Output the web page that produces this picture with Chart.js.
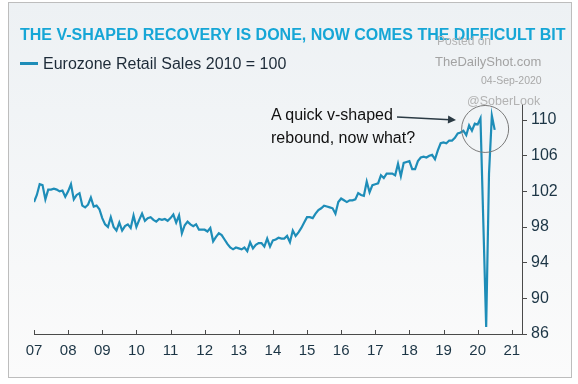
<!DOCTYPE html>
<html>
<head>
<meta charset="utf-8">
<script src="https://cdn.jsdelivr.net/npm/chart.js@4.4.1/dist/chart.umd.min.js"></script>
<style>
  body { margin: 0; width: 578px; height: 384px; overflow: hidden; background: #fff;
         font-family: "Liberation Sans", Arial, sans-serif; }
  #frame { position: absolute; left: 8px; top: 2px; width: 562px; height: 374px;
           border: 1px solid #bdbdbd; background: linear-gradient(#edf1f4, #fbfbfb); }
  #c { position: absolute; left: 0; top: 0; }
  .t { position: absolute; white-space: nowrap; line-height: 1; }
</style>
</head>
<body>
<div id="frame"></div>
<canvas id="c" width="578" height="384"></canvas>

<div class="t" style="left:20px;top:27px;font-size:16px;font-weight:bold;color:#16a6d6;">THE V-SHAPED RECOVERY IS DONE, NOW COMES THE DIFFICULT BIT</div>
<div class="t" style="left:20px;top:62px;width:18px;height:3px;background:#1e8db8;"></div>
<div class="t" style="left:43px;top:56px;font-size:16px;color:#1d2b38;">Eurozone Retail Sales 2010 = 100</div>

<div class="t" style="left:437px;top:35px;font-size:12px;color:#b3b3b3;">Posted on</div>
<div class="t" style="left:435px;top:55px;font-size:13px;color:#a3a3a3;">TheDailyShot.com</div>
<div class="t" style="left:481px;top:75px;font-size:10.5px;color:#a8a8a8;">04-Sep-2020</div>
<div class="t" style="left:467px;top:95px;font-size:12.5px;color:#b3b3b3;">@SoberLook</div>

<div class="t" style="left:271px;top:103px;font-size:16px;line-height:23px;color:#111;">A quick v-shaped<br>rebound, now what?</div>

<script>
// monthly, Jan 2007 .. Jul 2020
const startYear = 2007;
const retailSales = [
  100.8, 101.6, 102.8, 102.7, 101.1, 102.2, 102.2, 102.3, 102.2, 102.0, 102.1, 101.4,
  102.0, 102.8, 101.1, 101.6, 101.8, 100.4, 100.2, 100.5, 101.3, 100.3, 100.4, 100.0,
  99.0, 98.3, 98.0, 99.1, 98.0, 97.6, 98.5, 97.6, 98.1, 98.3, 97.9, 99.3,
  98.0, 98.8, 99.5, 98.7, 99.0, 99.1, 98.8, 98.6, 98.9, 98.8, 98.9, 98.7,
  99.0, 99.4, 98.5, 99.3, 97.3, 98.2, 98.6, 98.3, 98.1, 98.3, 97.7, 97.7,
  97.7, 97.5, 97.9, 96.4, 96.9, 97.3, 97.1, 96.6, 96.1, 95.7, 95.5, 95.7,
  95.6, 95.5, 95.7, 95.3, 96.3, 95.6, 96.0, 96.2, 96.2, 95.8, 96.7, 95.8,
  96.5, 96.6, 96.8, 96.7, 96.7, 97.0, 96.3, 97.6, 97.0, 97.4, 97.9, 98.5,
  99.1, 99.1, 99.0, 99.5, 99.9, 100.1, 100.4, 100.3, 100.2, 100.1, 99.5, 100.8,
  101.2, 101.0, 100.8, 101.0, 101.0, 101.1, 101.8, 101.6, 101.5, 103.1, 101.9, 102.7,
  102.8, 102.9, 103.8, 103.5, 104.0, 104.0, 104.0, 103.8, 105.1, 103.7, 105.2, 105.3,
  105.4, 104.5, 104.5, 105.4, 105.8, 105.9, 105.8, 106.0, 106.1, 105.6, 106.6, 107.4,
  107.5, 107.4, 107.7, 107.7, 108.0, 108.5, 108.6, 108.8, 108.3, 109.4, 108.8, 109.6,
  109.5, 110.2, 98.5, 86.8, 104.0, 110.5, 108.9
];
const yearTicks = [2007, 2008, 2009, 2010, 2011, 2012, 2013, 2014, 2015, 2016, 2017, 2018, 2019, 2020, 2021];
const valueTicks = [86, 90, 94, 98, 102, 106, 110];

const points = retailSales.map((v, i) => ({ x: startYear + i / 12, y: v }));

const axisColor = '#4a4a4a';
const labelColor = '#1c3545';

// x ticks point up into the plot; plus the arrow and circle callout
const extras = {
  id: 'extras',
  afterDraw(chart) {
    const { ctx, chartArea, scales } = chart;
    ctx.save();
    ctx.strokeStyle = axisColor;
    ctx.lineWidth = 1;
    yearTicks.forEach(yr => {
      const px = Math.round(scales.x.getPixelForValue(yr)) + 0.5;
      ctx.beginPath();
      ctx.moveTo(px, chartArea.bottom);
      ctx.lineTo(px, chartArea.bottom - 4);
      ctx.stroke();
    });

    // arrow
    ctx.strokeStyle = '#2b3a44';
    ctx.fillStyle = '#2b3a44';
    ctx.lineWidth = 1.5;
    const x0 = 397, y0 = 117, x1 = 456, y1 = 120;
    ctx.beginPath();
    ctx.moveTo(x0, y0);
    ctx.lineTo(x1 - 6, y1 - 0.3);
    ctx.stroke();
    const a = Math.atan2(y1 - y0, x1 - x0);
    ctx.beginPath();
    ctx.moveTo(x1, y1);
    ctx.lineTo(x1 - 8 * Math.cos(a) + 4 * Math.sin(a), y1 - 8 * Math.sin(a) - 4 * Math.cos(a));
    ctx.lineTo(x1 - 8 * Math.cos(a) - 4 * Math.sin(a), y1 - 8 * Math.sin(a) + 4 * Math.cos(a));
    ctx.closePath();
    ctx.fill();

    // circle round the v
    ctx.strokeStyle = '#7a7a7a';
    ctx.lineWidth = 1;
    ctx.beginPath();
    ctx.arc(scales.x.getPixelForValue(2020.22), scales.y.getPixelForValue(109.0), 23.5, 0, Math.PI * 2);
    ctx.stroke();
    ctx.restore();
  }
};

new Chart(document.getElementById('c'), {
  type: 'line',
  data: {
    datasets: [{
      label: 'Eurozone Retail Sales 2010 = 100',
      data: points,
      borderColor: '#1e8db8',
      borderWidth: 2.2,
      pointRadius: 0,
      tension: 0,
      fill: false
    }]
  },
  options: {
    responsive: false,
    animation: false,
    layout: { padding: { left: 34, right: 0, top: 104, bottom: 0 } },
    plugins: { legend: { display: false }, tooltip: { enabled: false } },
    scales: {
      x: {
        type: 'linear',
        min: 2007,
        max: 2021.3,
        afterBuildTicks: s => { s.ticks = yearTicks.map(v => ({ value: v })); },
        afterFit: s => { s.height = 50; },
        ticks: {
          autoSkip: false,
          maxRotation: 0,
          padding: 8,
          color: labelColor,
          font: { family: '"Liberation Sans", Arial, sans-serif', size: 15 },
          callback: v => String(v).slice(2)
        },
        grid: { display: false, drawTicks: false },
        border: { display: true, color: axisColor, width: 1 }
      },
      y: {
        position: 'right',
        min: 86,
        max: 111.8,
        afterBuildTicks: s => { s.ticks = valueTicks.map(v => ({ value: v })); },
        afterFit: s => { s.width = 56; },
        ticks: {
          padding: 4,
          color: labelColor,
          font: { family: '"Liberation Sans", Arial, sans-serif', size: 16 }
        },
        grid: { display: true, drawOnChartArea: false, drawTicks: true, tickLength: 5, color: axisColor },
        border: { display: true, color: axisColor, width: 1 }
      }
    }
  },
  plugins: [extras]
});
</script>
</body>
</html>
